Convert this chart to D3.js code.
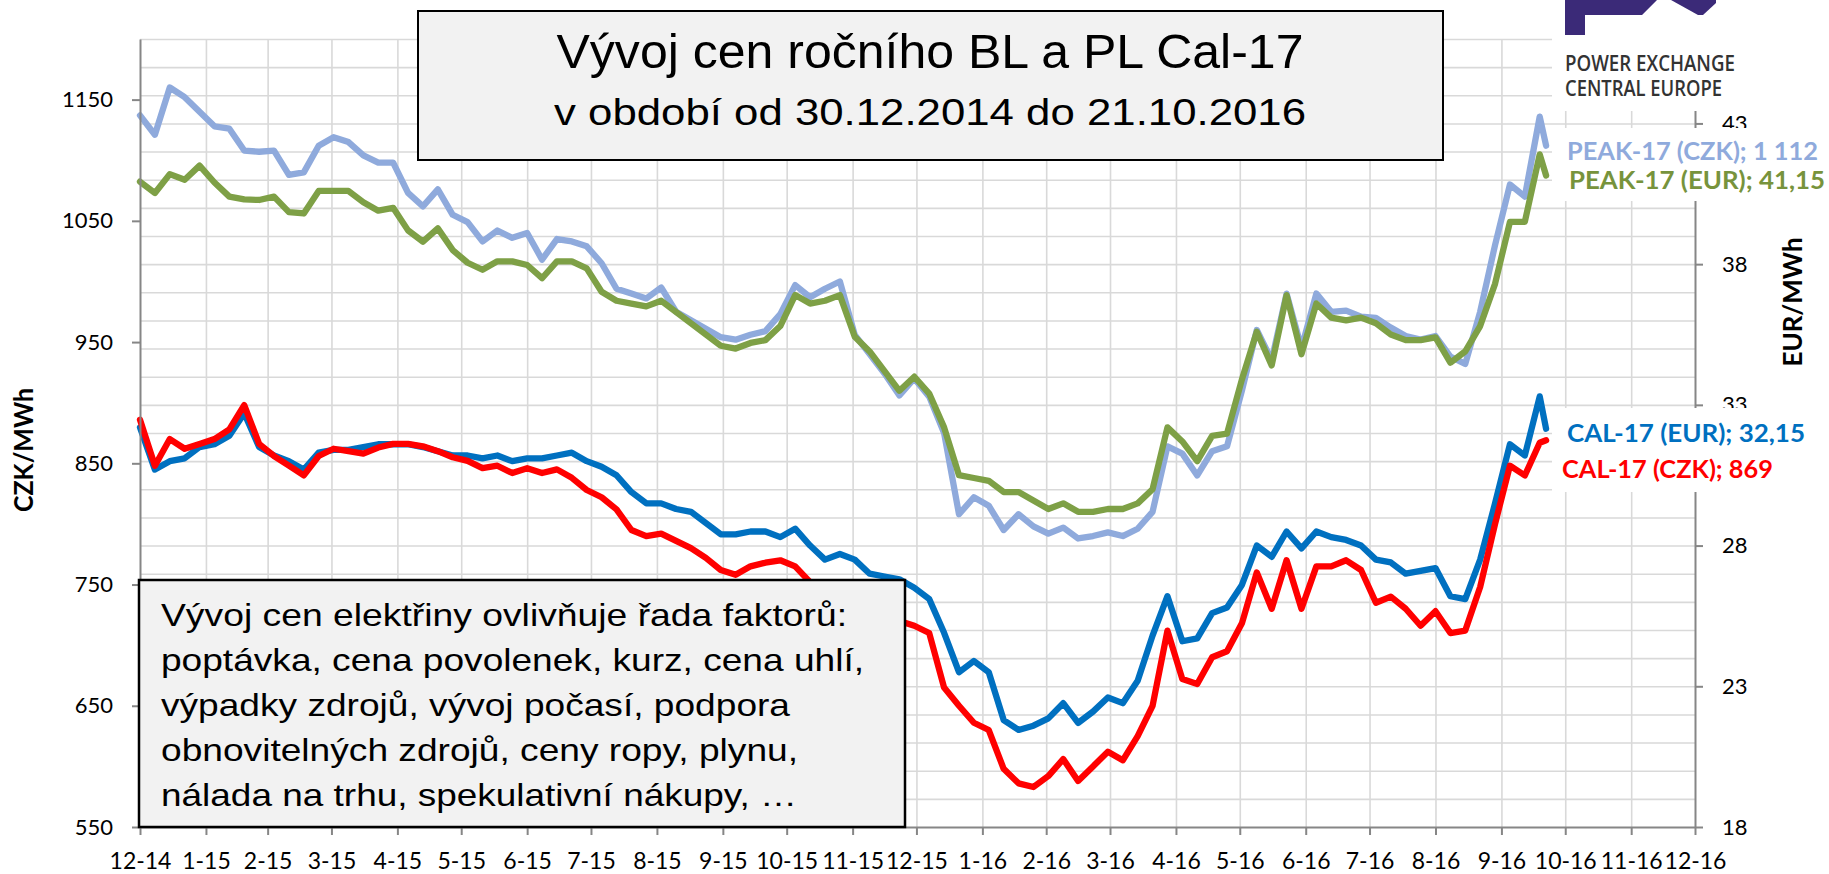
<!DOCTYPE html>
<html>
<head>
<meta charset="utf-8">
<script src="https://cdn.jsdelivr.net/npm/d3@7"></script>
<style>
  body { margin:0; background:#fff; }
  svg { display:block; }
</style>
</head>
<body>
<div id="chart"></div>
<script>
// weekly closing dates (plus the last trading day)
var dates = ["2014-12-30",
  "2015-01-06","2015-01-13","2015-01-20","2015-01-27","2015-02-03","2015-02-10","2015-02-17","2015-02-24",
  "2015-03-03","2015-03-10","2015-03-17","2015-03-24","2015-03-31","2015-04-07","2015-04-14","2015-04-21","2015-04-28",
  "2015-05-05","2015-05-12","2015-05-19","2015-05-26","2015-06-02","2015-06-09","2015-06-16","2015-06-23","2015-06-30",
  "2015-07-07","2015-07-14","2015-07-21","2015-07-28","2015-08-04","2015-08-11","2015-08-18","2015-08-25",
  "2015-09-01","2015-09-08","2015-09-15","2015-09-22","2015-09-29","2015-10-06","2015-10-13","2015-10-20","2015-10-27",
  "2015-11-03","2015-11-10","2015-11-17","2015-11-24","2015-12-01","2015-12-08","2015-12-15","2015-12-22","2015-12-29",
  "2016-01-05","2016-01-12","2016-01-19","2016-01-26","2016-02-02","2016-02-09","2016-02-16","2016-02-23",
  "2016-03-01","2016-03-08","2016-03-15","2016-03-22","2016-03-29","2016-04-05","2016-04-12","2016-04-19","2016-04-26",
  "2016-05-03","2016-05-10","2016-05-17","2016-05-24","2016-05-31","2016-06-07","2016-06-14","2016-06-21","2016-06-28",
  "2016-07-05","2016-07-12","2016-07-19","2016-07-26","2016-08-02","2016-08-09","2016-08-16","2016-08-23","2016-08-30",
  "2016-09-06","2016-09-13","2016-09-20","2016-09-27","2016-10-04","2016-10-11","2016-10-18","2016-10-21"];

// PEAK-17 in CZK/MWh (left axis)
var peakCzk = [1137,1121,1160,1152,1140,1128,1126,1108,1107,1108,
  1088,1090,1112,1119,1115,1104,1098,1098,1073,1062,
  1076,1055,1049,1033,1042,1036,1040,1018,1035,1033,
  1029,1015,994,990,986,995,975,968,961,954,
  952,956,959,973,997,987,994,1000,956,940,
  924,906,920,905,875,808,822,815,795,808,
  798,792,797,788,790,793,790,796,810,864,
  858,840,860,864,910,960,935,990,945,990,
  975,976,971,970,962,955,952,955,938,932,
  975,1030,1080,1070,1136,1112];

// PEAK-17 in EUR/MWh (right axis)
var peakEur = [40.93,40.53,41.2,41.0,41.5,40.9,40.4,40.3,40.28,40.4,
  39.85,39.8,40.6,40.6,40.6,40.2,39.9,40.0,39.2,38.8,
  39.27,38.5,38.05,37.8,38.1,38.1,37.97,37.5,38.1,38.1,
  37.85,37.02,36.7,36.6,36.5,36.7,36.3,35.9,35.5,35.1,
  35.0,35.2,35.3,35.8,36.9,36.6,36.7,36.9,35.42,34.9,
  34.2,33.5,34.0,33.4,32.2,30.5,30.4,30.3,29.9,29.9,
  29.6,29.3,29.5,29.2,29.2,29.3,29.3,29.5,30.0,32.2,
  31.7,31.0,31.9,31.98,33.9,35.6,34.4,36.9,34.8,36.6,
  36.1,36.0,36.1,35.9,35.5,35.3,35.3,35.4,34.5,34.9,
  35.8,37.3,39.5,39.5,41.9,41.15];

// CAL-17 (base load) in EUR/MWh (right axis)
var calEur = [32.2,30.7,31.0,31.1,31.5,31.6,31.9,32.7,31.5,31.2,
  31.0,30.7,31.3,31.4,31.4,31.5,31.6,31.6,31.6,31.5,
  31.35,31.2,31.2,31.1,31.2,31.0,31.1,31.1,31.2,31.3,
  31.0,30.8,30.5,29.9,29.5,29.5,29.3,29.2,28.8,28.4,
  28.4,28.5,28.5,28.3,28.6,28.0,27.5,27.7,27.5,27.0,
  26.9,26.8,26.5,26.1,24.9,23.5,23.9,23.5,21.8,21.45,
  21.6,21.86,22.4,21.7,22.1,22.6,22.4,23.2,24.8,26.2,
  24.6,24.7,25.6,25.8,26.6,28.0,27.6,28.5,27.9,28.5,
  28.3,28.2,28.0,27.5,27.4,27.0,27.1,27.2,26.2,26.1,
  27.5,29.5,31.6,31.2,33.3,32.15];

// CAL-17 (base load) in CZK/MWh (left axis)
var calCzk = [886,848,870,862,866,870,878,898,866,856,
  848,840,856,862,860,858,863,866,866,864,
  860,855,852,846,848,842,846,842,845,838,
  828,822,812,795,790,792,786,780,772,762,
  758,765,768,770,765,752,745,738,735,728,
  726,720,716,710,665,650,636,630,598,586,
  583,592,606,588,600,612,605,625,650,712,
  672,668,690,695,718,760,730,770,730,765,
  765,770,762,735,740,730,716,728,710,712,
  748,800,848,840,867,869];

var tickDates = ["2014-12-30","2015-01-30","2015-02-28","2015-03-30","2015-04-30","2015-05-30","2015-06-30",
  "2015-07-30","2015-08-30","2015-09-30","2015-10-30","2015-11-30","2015-12-30","2016-01-30","2016-02-29",
  "2016-03-30","2016-04-30","2016-05-30","2016-06-30","2016-07-30","2016-08-30","2016-09-30","2016-10-30",
  "2016-11-30","2016-12-30"];
var tickLabels = ["12-14","1-15","2-15","3-15","4-15","5-15","6-15","7-15","8-15","9-15","10-15","11-15",
  "12-15","1-16","2-16","3-16","4-16","5-16","6-16","7-16","8-16","9-16","10-16","11-16","12-16"];
var czkTicks = [550,650,750,850,950,1050,1150];
var eurTicks = [18,23,28,33,38,43];
var eurGrid = [19,20,21,22,23,24,25,26,27,28,29,30,31,32,33,34,35,36,37,38,39,40,41,42,43,44,45,46];

var infoLines = ["Vývoj cen elektřiny ovlivňuje řada faktorů:",
  "poptávka, cena povolenek, kurz, cena uhlí,",
  "výpadky zdrojů, vývoj počasí, podpora",
  "obnovitelných zdrojů, ceny ropy, plynu,",
  "nálada na trhu, spekulativní nákupy, …"];

// settings for window
var w = 1829, h = 874;
var plotL = 140, plotR = 1695, plotT = 39, plotB = 827;
var narrow = "'Liberation Sans Narrow','Arial Narrow','Liberation Sans',Arial,sans-serif";
var tickFont = "Lato, 'Open Sans', sans-serif";

var parse = d3.timeParse("%Y-%m-%d");
var dDates = dates.map(parse);
var dTicks = tickDates.map(parse);

var svg = d3.select("#chart").append("svg").attr("width", w).attr("height", h);
svg.append("rect").attr("width", w).attr("height", h).attr("fill", "#fff");

// scales
var x = d3.scaleTime().domain([parse("2014-12-30"), parse("2016-12-30")]).range([plotL, plotR]);
var yCzk = d3.scaleLinear().domain([550, 1200]).range([plotB, plotT]);
var yEur = d3.scaleLinear().domain([18, 46]).range([plotB, plotT]);

// grid
var gy = svg.append("g").attr("transform", "translate(" + plotL + ",0)")
  .call(d3.axisLeft(yEur).tickValues(eurGrid).tickSize(-(plotR - plotL)).tickFormat(""));
gy.select(".domain").remove();
gy.selectAll("line").attr("stroke", "#d9d9d9").attr("stroke-width", 1.6);

var gx = svg.append("g").attr("transform", "translate(0," + plotB + ")")
  .call(d3.axisBottom(x).tickValues(dTicks.slice(1, -1)).tickSize(-(plotB - plotT)).tickFormat(""));
gx.select(".domain").remove();
gx.selectAll("line").attr("stroke", "#d9d9d9").attr("stroke-width", 1.6);

// lines
var series = [
  {vals: peakCzk, y: yCzk, color: "#8faadc"},
  {vals: peakEur, y: yEur, color: "#7ea046"},
  {vals: calEur, y: yEur, color: "#0070c0"},
  {vals: calCzk, y: yCzk, color: "#ff0000"}
];
series.forEach(function(s) {
  var line = d3.line().x(function(d, i) { return x(dDates[i]); }).y(function(d) { return s.y(d); });
  svg.append("path").datum(s.vals).attr("d", line).attr("fill", "none")
    .attr("stroke", s.color).attr("stroke-width", 6.3)
    .attr("stroke-linejoin", "round").attr("stroke-linecap", "round");
});

// axes
function styleAxis(g) {
  g.selectAll(".domain").attr("stroke", "#868686").attr("stroke-width", 2);
  g.selectAll(".tick line").attr("stroke", "#868686").attr("stroke-width", 2);
  g.selectAll("text").attr("font-family", tickFont).attr("font-size", 22).attr("fill", "#000");
}
svg.append("g").attr("transform", "translate(" + plotL + ",0)")
  .call(d3.axisLeft(yCzk).tickValues(czkTicks).tickSize(8).tickSizeOuter(0).tickPadding(19).tickFormat(d3.format("d")))
  .call(styleAxis);
svg.append("g").attr("transform", "translate(" + plotR + ",0)")
  .call(d3.axisRight(yEur).tickValues(eurTicks).tickSize(8).tickSizeOuter(0).tickPadding(19))
  .call(styleAxis);
var xa = svg.append("g").attr("transform", "translate(0," + plotB + ")")
  .call(d3.axisBottom(x).tickValues(dTicks).tickSize(8).tickSizeOuter(0).tickPadding(18)
    .tickFormat(function(d, i) { return tickLabels[i]; }))
  .call(styleAxis);
xa.selectAll("text").attr("font-size", 23);

// axis titles
svg.append("text").attr("transform", "translate(33,450) rotate(-90)").attr("text-anchor", "middle")
  .attr("font-family", tickFont).attr("font-weight", "bold").attr("font-size", 27)
  .attr("textLength", 124).attr("lengthAdjust", "spacingAndGlyphs").text("CZK/MWh");
svg.append("text").attr("transform", "translate(1802,302) rotate(-90)").attr("text-anchor", "middle")
  .attr("font-family", tickFont).attr("font-weight", "bold").attr("font-size", 27)
  .attr("textLength", 129).attr("lengthAdjust", "spacingAndGlyphs").text("EUR/MWh");

// title box
svg.append("rect").attr("x", 418).attr("y", 11).attr("width", 1025).attr("height", 149)
  .attr("fill", "#f2f2f2").attr("stroke", "#000").attr("stroke-width", 2);
svg.append("text").attr("x", 930).attr("y", 68).attr("text-anchor", "middle")
  .attr("font-family", narrow).attr("font-size", 49)
  .attr("textLength", 747).attr("lengthAdjust", "spacingAndGlyphs").text("Vývoj cen ročního BL a PL Cal-17");
svg.append("text").attr("x", 930).attr("y", 125).attr("text-anchor", "middle")
  .attr("font-family", narrow).attr("font-size", 37)
  .attr("textLength", 752).attr("lengthAdjust", "spacingAndGlyphs").text("v období od 30.12.2014 do 21.10.2016");

// info box
svg.append("rect").attr("x", 139).attr("y", 580).attr("width", 766).attr("height", 247)
  .attr("fill", "#f2f2f2").attr("stroke", "#000").attr("stroke-width", 2.5);
var infoW = [686, 703, 629, 637, 636];
svg.selectAll(".info").data(infoLines).enter().append("text")
  .attr("x", 161).attr("y", function(d, i) { return 626 + i * 45; })
  .attr("font-family", narrow).attr("font-size", 32)
  .attr("textLength", function(d, i) { return infoW[i]; }).attr("lengthAdjust", "spacingAndGlyphs")
  .text(function(d) { return d; });

// end labels (white backing hides grid)
svg.append("rect").attr("x", 1552).attr("y", 128).attr("width", 277).attr("height", 73).attr("fill", "#fff");
svg.append("rect").attr("x", 1552).attr("y", 408).attr("width", 277).attr("height", 84).attr("fill", "#fff");
var endLabels = [
  {t: "PEAK-17 (CZK); 1 112", x: 1567, y: 160, w: 251, c: "#8faadc"},
  {t: "PEAK-17 (EUR); 41,15", x: 1569, y: 189, w: 256, c: "#77933c"},
  {t: "CAL-17 (EUR); 32,15", x: 1567, y: 442, w: 238, c: "#0070c0"},
  {t: "CAL-17 (CZK); 869", x: 1562, y: 478, w: 211, c: "#ff0000"}
];
endLabels.forEach(function(l) {
  svg.append("text").attr("x", l.x).attr("y", l.y).attr("fill", l.c)
    .attr("font-family", tickFont).attr("font-weight", "bold").attr("font-size", 24)
    .attr("textLength", l.w).attr("lengthAdjust", "spacingAndGlyphs").text(l.t);
});

// logo
svg.append("rect").attr("x", 1552).attr("y", 0).attr("width", 277).attr("height", 111).attr("fill", "#fff");
svg.append("path").attr("d", "M1565,0 L1657,0 L1642,15 L1585,15 L1585,35 L1565,35 Z").attr("fill", "#3b2a78");
svg.append("path").attr("d", "M1671,0 L1716,0 L1716,3 L1703,15 L1698,15 Z").attr("fill", "#3b2a78");
svg.append("text").attr("x", 1565).attr("y", 71).attr("fill", "#333")
  .attr("font-family", "'Open Sans', sans-serif").attr("font-weight", 600).attr("font-size", 21)
  .attr("textLength", 170).attr("lengthAdjust", "spacingAndGlyphs").text("POWER EXCHANGE");
svg.append("text").attr("x", 1565).attr("y", 96).attr("fill", "#333")
  .attr("font-family", "'Open Sans', sans-serif").attr("font-weight", 600).attr("font-size", 21)
  .attr("textLength", 157).attr("lengthAdjust", "spacingAndGlyphs").text("CENTRAL EUROPE");
</script>
</body>
</html>
